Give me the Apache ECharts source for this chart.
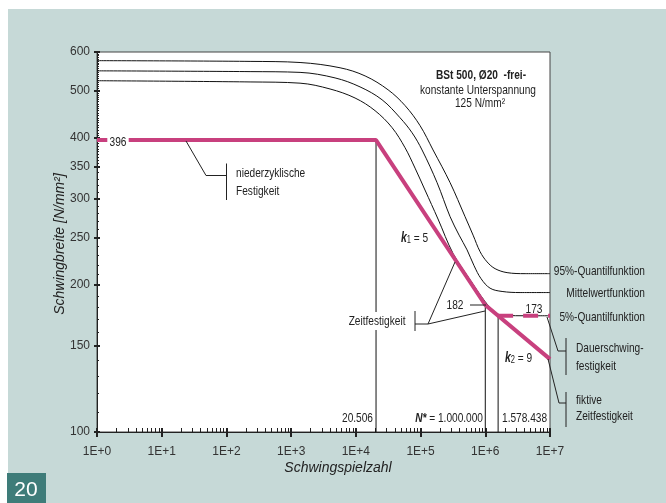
<!DOCTYPE html>
<html>
<head>
<meta charset="utf-8">
<script src="https://cdn.jsdelivr.net/npm/echarts@6/dist/echarts.min.js"></script>
<style>
  body { margin: 0; background: #fff; }
  #back { position: absolute; left: 8px; top: 9px; width: 658px; height: 494px; background: #c6d9d7; }
  #main { position: absolute; left: 0; top: 0; width: 666px; height: 503px; }
</style>
</head>
<body>
<div id="back"></div>
<div id="main"></div>
<script>
// Achsen
var xTickMajor = [1, 10, 100, 1e3, 1e4, 1e5, 1e6, 1e7];
var xTickLabels = ['1E+0', '1E+1', '1E+2', '1E+3', '1E+4', '1E+5', '1E+6', '1E+7'];
var yTickMajor = [100, 150, 200, 250, 300, 350, 400, 500, 600];

// 95%-Quantilfunktion
var q95N = [1, 232, 1373, 5700, 13900, 31500, 57600, 98200, 156000, 286000, 487000, 648000, 831000, 1066000, 1418000, 2172000, 4123000, 10000000];
var q95S = [576, 574, 571, 557, 536, 502, 466, 424, 378, 324, 276, 253, 234, 223, 216, 212, 211, 211];
// Mittelwertfunktion
var midN = [1, 232, 1373, 4770, 11600, 25400, 48200, 73900, 105500, 180000, 286000, 394000, 523000, 671000, 861000, 1186000, 1818000, 3452000, 10000000];
var midS = [549, 547, 545, 531, 509, 479, 440, 410, 378, 324, 276, 253, 236, 219, 206, 197, 194, 193, 193];
// 5%-Quantilfunktion
var q05N = [1, 232, 1373, 3990, 9720, 19800, 36300, 57600, 82200, 117000, 186000, 318000, 582000, 993000, 1469000, 2097000, 4123000, 10000000];
var q05S = [524, 521, 518, 504, 483, 455, 420, 382, 347, 313, 273, 232, 205, 185, 175, 173.3, 173, 173];
// Bemessungslinie (k1 = 5, k2 = 9)
var designN = [1, 20506, 1000000, 10000000];
var designS = [396, 396, 182, 141];
// Dauerschwingfestigkeit
var enduranceN = [1578438, 10000000];
var enduranceS = [173, 173];
// senkrechte Hilfslinien
var markN = [20506, 1000000, 1578438];
var markS = [396, 182, 173];

var SANS = '"Liberation Sans", Arial, sans-serif';
var NARROW_SCALE = 0.75;

function lg(v) { return Math.log10(v); }
function pts(ns, ss) {
    return ns.map(function (n, i) { return [lg(n), lg(ss[i])]; });
}
function $ext(a, b) { var o = {}; for (var k in a) o[k] = a[k]; for (var k2 in b) o[k2] = b[k2]; return o; }

// Nebenteilstriche
var xMinor = [];
for (var e = 0; e < 7; e++) {
    for (var m = 2; m < 10; m++) xMinor.push(lg(m * Math.pow(10, e)));
}
var yMinor = [];
for (var v = 110; v < 600; v += (v < 350 ? 10 : 5)) {
    if (yTickMajor.indexOf(v) < 0) yMinor.push(lg(v));
}

// schmaler Text: Liberation Sans horizontal gestaucht
function txt(x, y, text, opt) {
    opt = opt || {};
    return {
        type: 'text', x: x, y: y, z: 100, rotation: opt.rotation || 0,
        scaleX: opt.wide ? 1 : NARROW_SCALE,
        style: {
            text: text, fill: opt.fill || '#222',
            font: opt.font || ('13.5px ' + SANS),
            align: opt.align || 'left', verticalAlign: 'middle',
            backgroundColor: opt.bg, padding: opt.padding, rich: opt.rich
        }
    };
}
function poly(points) {
    return { type: 'polyline', z: 100, shape: { points: points }, style: { stroke: '#222', lineWidth: 1, fill: null } };
}
var kRich = { k: { font: 'italic bold 14px ' + SANS }, s: { font: '10px ' + SANS, verticalAlign: 'bottom' }, n: { font: '13.5px ' + SANS } };

var lineBase = { type: 'line', showSymbol: false, silent: true, xAxisIndex: 0, yAxisIndex: 0 };
function curve(name, ns, ss) {
    return $ext(lineBase, { name: name, data: pts(ns, ss), smooth: 0.35, lineStyle: { color: '#111', width: 1 } });
}

var series = [
    curve('95%', q95N, q95S),
    curve('mittel', midN, midS),
    curve('5%', q05N, q05S)
];
markN.forEach(function (n, i) {
    series.push($ext(lineBase, { data: [[lg(n), 2], [lg(n), lg(markS[i])]], lineStyle: { color: '#111', width: 1 } }));
});
series.push($ext(lineBase, { data: pts(designN, designS), z: 5, lineStyle: { color: '#c8407e', width: 4 } }));
series.push($ext(lineBase, { data: pts(enduranceN, enduranceS), z: 5, lineStyle: { color: '#c8407e', width: 4, type: [15, 10] } }));

var xBase = { type: 'value', min: 0, max: 7, position: 'bottom', splitLine: { show: false }, axisLabel: { show: false }, axisLine: { show: false } };
var yBase = { type: 'value', min: 2, max: lg(600), position: 'left', splitLine: { show: false }, axisLabel: { show: false }, axisLine: { show: false } };

var option = {
    animation: false,
    grid: { left: 97, right: 116, top: 52, bottom: 71, show: true, backgroundColor: '#fff', borderColor: '#444', borderWidth: 1 },
    xAxis: [
        $ext(xBase, {
            axisLine: { show: true, lineStyle: { color: '#222', width: 1 } },
            axisTick: { customValues: xTickMajor.map(lg), length: 5, lineStyle: { color: '#222', width: 2 } },
            axisLabel: {
                show: true, customValues: xTickMajor.map(lg), margin: 14, color: '#333', fontSize: 12, fontFamily: SANS,
                formatter: function (v) { return xTickLabels[Math.round(v)]; }
            }
        }),
        $ext(xBase, { axisTick: { inside: true, customValues: xTickMajor.map(lg), length: 4, lineStyle: { color: '#222', width: 2 } } }),
        $ext(xBase, { axisTick: { inside: true, customValues: xMinor, length: 4, lineStyle: { color: '#222', width: 1 } } })
    ],
    yAxis: [
        $ext(yBase, {
            axisLine: { show: true, lineStyle: { color: '#222', width: 1 } },
            axisTick: { customValues: yTickMajor.map(lg), length: 3, lineStyle: { color: '#222', width: 2 } },
            axisLabel: {
                show: true, customValues: yTickMajor.map(lg), margin: 7, color: '#333', fontSize: 12, fontFamily: SANS,
                formatter: function (v) { return String(Math.round(Math.pow(10, v))); }
            }
        }),
        $ext(yBase, { axisTick: { inside: true, customValues: yTickMajor.map(lg), length: 3, lineStyle: { color: '#222', width: 2 } } }),
        $ext(yBase, { axisTick: { inside: true, customValues: yMinor, length: 2, lineStyle: { color: '#222', width: 1 } } })
    ],
    series: series,
    graphic: [
        // Seitenzahl
        { type: 'rect', z: 100, shape: { x: 7, y: 473, width: 39, height: 30 }, style: { fill: '#3e7c79' } },
        txt(26, 490, '20', { fill: '#fff', font: '21px ' + SANS, align: 'center', wide: true }),
        // Achsentitel
        txt(60, 244, 'Schwingbreite [N/mm²]', { font: 'italic 14px ' + SANS, align: 'center', rotation: Math.PI / 2, wide: true }),
        txt(338, 468, 'Schwingspielzahl', { font: 'italic 14px ' + SANS, align: 'center', wide: true }),
        // Kopftext
        txt(481, 75, 'BSt 500, Ø20  -frei-', { font: 'bold 13.5px ' + SANS, align: 'center' }),
        txt(478, 90, 'konstante Unterspannung', { align: 'center' }),
        txt(480, 103, '125 N/mm²', { align: 'center' }),
        // Werte
        txt(118, 142, '396', { align: 'center', bg: '#fff', padding: [1, 3] }),
        txt(455, 305, '182', { align: 'center' }),
        poly([[470, 305], [486, 305]]),
        txt(534, 309, '173', { align: 'center' }),
        txt(401, 238, '{k|k}{s|1}{n| = 5}', { rich: kRich }),
        txt(505, 358, '{k|k}{s|2}{n| = 9}', { rich: kRich }),
        txt(373, 418, '20.506', { align: 'right' }),
        txt(483, 418, '{k|N*}{n| = 1.000.000}', { align: 'right', rich: { k: { font: 'italic bold 13.5px ' + SANS }, n: { font: '13.5px ' + SANS } } }),
        txt(502, 418, '1.578.438'),
        // niederzyklische Festigkeit
        poly([[186, 141], [206, 175.5], [226.5, 175.5]]),
        poly([[226.5, 163.5], [226.5, 200]]),
        txt(236, 173, 'niederzyklische'),
        txt(236, 191, 'Festigkeit'),
        // Zeitfestigkeit
        txt(407, 321, 'Zeitfestigkeit', { align: 'right', bg: '#fff', padding: [2, 2] }),
        poly([[415, 311], [415, 331]]),
        poly([[415, 324], [428, 324]]),
        poly([[455, 262], [428, 324], [485, 311]]),
        // Kurvennamen
        txt(645, 271, '95%-Quantilfunktion', { align: 'right' }),
        txt(645, 293, 'Mittelwertfunktion', { align: 'right' }),
        txt(645, 317, '5%-Quantilfunktion', { align: 'right' }),
        // Dauerschwingfestigkeit
        poly([[547, 317], [558, 351], [566, 351]]),
        poly([[566, 338], [566, 375]]),
        txt(576, 348, 'Dauerschwing-'),
        txt(576, 366, 'festigkeit'),
        // fiktive Zeitfestigkeit
        poly([[548, 359], [559, 403], [566, 403]]),
        poly([[566, 392], [566, 427]]),
        txt(576, 400, 'fiktive'),
        txt(576, 416, 'Zeitfestigkeit')
    ]
};

var myChart = echarts.init(document.getElementById('main'));
myChart.setOption(option);
</script>
</body>
</html>
